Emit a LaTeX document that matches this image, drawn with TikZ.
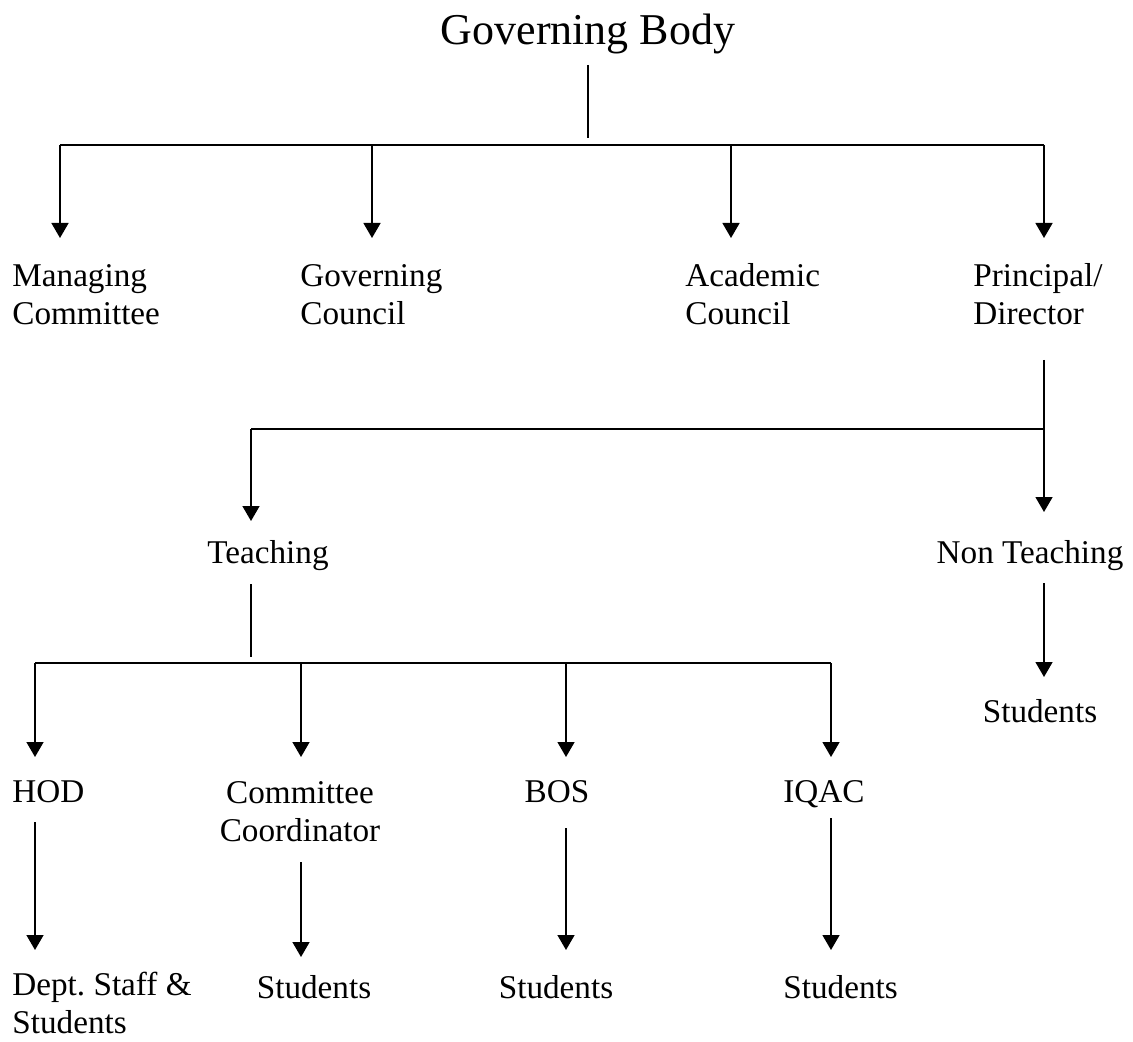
\documentclass[tikz,border=0pt]{standalone}
\usepackage{fontspec}
\setmainfont{Liberation Serif}
\usepackage{tikz}
\usetikzlibrary{arrows.meta}

\begin{document}
\begin{tikzpicture}[x=0.5pt,y=-0.5pt]
\useasboundingbox (0,0) rectangle (1133,1042);

\begin{scope}[every node/.style={inner sep=0pt,font=\fontsize{16.6}{19}\selectfont}]
    \node[anchor=base,font=\fontsize{22}{26}\selectfont] (gb) at (588,45) {Governing Body};
    \node[anchor=base west,align=left] (mc) at (12,325) {Managing\\Committee};
    \node[anchor=base west,align=left] (gc) at (300,325) {Governing\\Council};
    \node[anchor=base west,align=left] (ac) at (685,325) {Academic\\Council};
    \node[anchor=base west,align=left] (pd) at (973,325) {Principal/\\Director};
    \node[anchor=base west] (te) at (207,563) {Teaching};
    \node[anchor=base] (nt) at (1030,563) {Non Teaching};
    \node[anchor=base] (ns) at (1040,722) {Students};
    \node[anchor=base west] (hod) at (12,802) {HOD};
    \node[anchor=base,align=center] (cc) at (300,841) {Committee\\Coordinator};
    \node[anchor=base] (bos) at (557,802) {BOS};
    \node[anchor=base west] (iq) at (783,802) {IQAC};
    \node[anchor=base west,align=left] (ds) at (12,1033) {Dept.\ Staff \&\\Students};
    \node[anchor=base] (cs) at (314,998) {Students};
    \node[anchor=base] (bs) at (556,998) {Students};
    \node[anchor=base west] (is) at (783,998) {Students};
\end{scope}

% bus points and arrow tips
\coordinate (gbtop) at (588,65);
\coordinate (gbbus) at (588,145);
\coordinate (b1) at (60,145);
\coordinate (b4) at (1044,145);
\coordinate (pdtop) at (1044,360);
\coordinate (pdbus) at (1044,429);
\coordinate (tebus) at (251,429);
\coordinate (tetop) at (251,584);
\coordinate (tejoin) at (251,663);
\coordinate (c1) at (35,663);
\coordinate (c4) at (831,663);

\begin{scope}[>={Triangle[width=8.5pt,length=7.5pt]},line width=0.75pt]
    \draw (gbtop) -- ++(0,73);
    \draw[line width=1.1pt] (b1) -- (b4);
    \draw[->] (b1) -- (60,238);
    \draw[->] (372,145) -- (372,238);
    \draw[->] (731,145) -- (731,238);
    \draw[->] (b4) -- (1044,238);

    \draw (pdtop) -- (pdbus);
    \draw[line width=1.1pt] (tebus) -- (pdbus);
    \draw[->] (tebus) -- (251,521);
    \draw[->] (pdbus) -- (1044,512);

    \draw (tetop) -- (251,657);
    \draw[line width=1.1pt] (c1) -- (c4);
    \draw[->] (c1) -- (35,757);
    \draw[->] (301,663) -- (301,757);
    \draw[->] (566,663) -- (566,757);
    \draw[->] (c4) -- (831,757);

    \draw[->] (1044,583) -- (1044,677);
    \draw[->] (35,822) -- (35,950);
    \draw[->] (301,862) -- (301,957);
    \draw[->] (566,828) -- (566,950);
    \draw[->] (831,818) -- (831,950);
\end{scope}
\end{tikzpicture}
\end{document}
